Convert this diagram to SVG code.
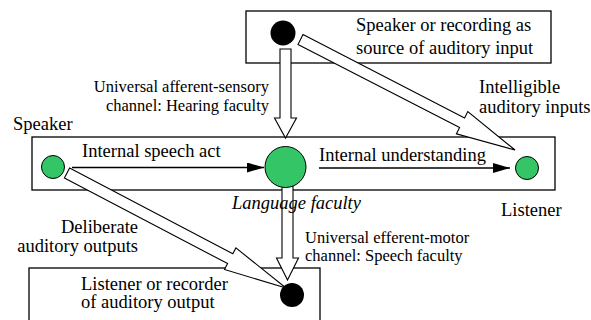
<svg xmlns="http://www.w3.org/2000/svg" width="591" height="320" viewBox="0 0 591 320">
<defs>
<style>
.box{fill:#fff;stroke:#000;stroke-width:1.3}
text{font-family:'Liberation Serif','DejaVu Serif',serif;fill:#000}
.t{font-size:18.5px}
.s{font-size:16.5px}
.i{font-style:italic}
.e{text-anchor:end}
.green{fill:#34c566;stroke:#000;stroke-width:1}
.black{fill:#000}
.hollow{fill:#fff;stroke:#000;stroke-width:1.1;stroke-linejoin:miter}
.line{stroke:#000;stroke-width:1.3;fill:none}
</style>
<marker id="ah" markerUnits="userSpaceOnUse" markerWidth="18" markerHeight="11" refX="17" refY="5" orient="auto">
<path d="M0,0 L17,5 L0,10 z" fill="#000"/>
</marker>
</defs>
<rect width="591" height="320" fill="#fff"/>

<g id="source-box" font-family="Liberation Serif, DejaVu Serif, serif">
<rect class="box" x="246" y="11" width="305" height="52"/>
<text class="t" x="356" y="31">Speaker or recording as</text>
<text class="t" x="356" y="54">source of auditory input</text>
</g>

<g id="main-box">
<rect class="box" x="32" y="137" width="523" height="53"/>
</g>

<g id="recorder-box" font-family="Liberation Serif, DejaVu Serif, serif">
<rect class="box" x="29" y="268" width="291" height="70"/>
<text class="t" x="81" y="290">Listener or recorder</text>
<text class="t" x="81" y="308">of auditory output</text>
</g>

<g id="connectors">
<polygon class="hollow" points="280,49 291,49 291,118 296.5,118 285.5,138 274.5,118 280,118"/>
<polygon class="hollow" points="282,186 293,186 293,258 298.5,258 287.5,280 276.5,258 282,258"/>
<polygon class="hollow" points="303,34.6 464.6,117.9 467.8,111.6 515,150 456.4,133.9 459.6,127.6 298,44.4"/>
<polygon class="hollow" points="69.6,168.1 232.8,253.8 235.9,247.9 286,288 224.5,269.5 227.6,263.6 64.4,177.9"/>
<line class="line" x1="72" y1="167.5" x2="264" y2="167.5" marker-end="url(#ah)"/>
<line class="line" x1="319" y1="168" x2="510" y2="168" marker-end="url(#ah)"/>
</g>

<g id="source">
<circle class="black" cx="283" cy="33" r="12.5"/>
</g>
<g id="speaker" font-family="Liberation Serif, DejaVu Serif, serif">
<circle class="green" cx="53" cy="167" r="11.5"/>
<text class="t" x="13" y="130">Speaker</text>
</g>
<g id="language-faculty" font-family="Liberation Serif, DejaVu Serif, serif">
<circle class="green" cx="285.5" cy="167" r="20.5"/>
<text class="t i" x="232" y="209">Language faculty</text>
</g>
<g id="listener" font-family="Liberation Serif, DejaVu Serif, serif">
<circle class="green" cx="527" cy="168" r="11.5"/>
<text class="t" x="501" y="216">Listener</text>
</g>
<g id="recorder">
<circle class="black" cx="292" cy="295" r="12"/>
</g>

<g id="labels" font-family="Liberation Serif, DejaVu Serif, serif">
<text class="s e" x="269" y="92">Universal afferent-sensory</text>
<text class="s e" x="269" y="110.5">channel: Hearing faculty</text>
<text class="t" x="319" y="161">Internal understanding</text>
<text class="t" x="82" y="157">Internal speech act</text>
<text class="t" x="479" y="93">Intelligible</text>
<text class="t" x="479" y="113">auditory inputs</text>
<text class="t e" x="138" y="233">Deliberate</text>
<text class="t e" x="138" y="252">auditory outputs</text>
<text class="s" x="305" y="242.5">Universal efferent-motor</text>
<text class="s" x="305" y="261">channel: Speech faculty</text>
</g>
</svg>
